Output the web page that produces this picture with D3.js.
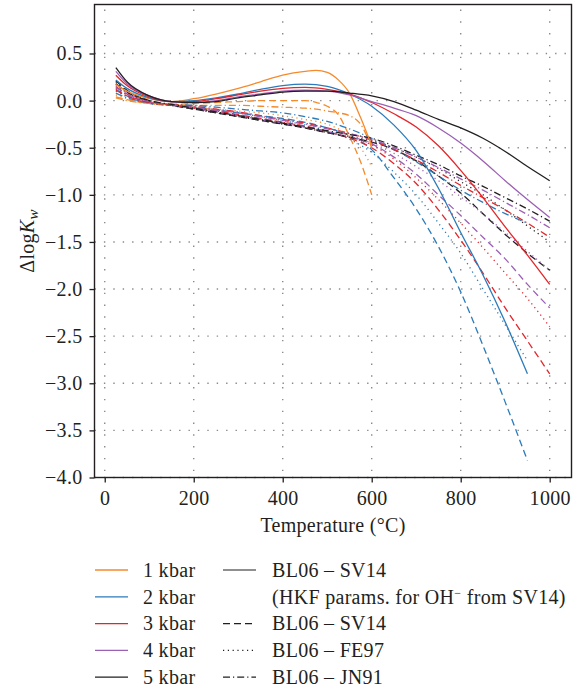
<html>
<head>
<meta charset="UTF-8"/>
<script src="https://d3js.org/d3.v7.min.js"></script>
<title>delta log Kw</title>
<style>
body { margin: 0; background: #fff; }
text { font-family: "Liberation Serif", "DejaVu Serif", serif; fill: #231f20; letter-spacing: 0.3px; }
</style>
</head>
<body>
<svg id='big' width=582 height=691></svg>
<script>
'use strict';

// temperatures (°C)
var temps = [25,50,100,150,200,250,300,350,400,450,500,550,600,650,700,750,800,850,900,950,1000];
var temps1kbar = [25,50,100,150,200,250,300,350,400,450,475,500,525,550,575,600];

// 1 kbar (ends at 600 °C)
var kbar1Solid   = [0.17,0.10,0.02,-0.01,0.02,0.07,0.13,0.20,0.27,0.31,0.32,0.30,0.22,0.08,-0.18,-0.48];
var kbar1Dashed  = [0.04,0.01,-0.03,-0.04,-0.03,-0.02,-0.01,0.0,0.0,0.0,-0.02,-0.06,-0.15,-0.38,-0.65,-1.0];
var kbar1Dotted  = [0.06,0.02,-0.03,-0.05,-0.07,-0.09,-0.11,-0.13,-0.16,-0.20,-0.22,-0.25,-0.30,-0.38,-0.50,-0.70];
var kbar1DashDot = [0.03,0.0,-0.03,-0.04,-0.05,-0.05,-0.05,-0.06,-0.07,-0.08,-0.09,-0.11,-0.13,-0.16,-0.25,-0.50];

// 2 kbar (ends at 950 °C)
var kbar2Solid   = [0.22,0.13,0.03,-0.01,0.0,0.03,0.07,0.12,0.16,0.175,0.15,0.07,-0.06,-0.26,-0.53,-0.93,-1.40,-1.85,-2.35,-2.90,null];
var kbar2Dashed  = [0.12,0.05,-0.03,-0.05,-0.07,-0.10,-0.13,-0.16,-0.19,-0.23,-0.29,-0.37,-0.52,-0.82,-1.15,-1.55,-2.03,-2.60,-3.20,-3.82,null];
var kbar2Dotted  = [0.10,0.04,-0.03,-0.05,-0.07,-0.10,-0.13,-0.17,-0.21,-0.26,-0.32,-0.41,-0.55,-0.76,-1.0,-1.30,-1.62,-2.0,-2.38,-2.76,null];
var kbar2DashDot = [0.08,0.03,-0.02,-0.04,-0.05,-0.07,-0.09,-0.11,-0.13,-0.17,-0.22,-0.30,-0.40,-0.52,-0.65,-0.80,-0.95,-1.08,-1.20,-1.30,null];

// 3 kbar
var kbar3Solid   = [0.27,0.16,0.04,-0.01,-0.01,0.02,0.06,0.10,0.13,0.14,0.12,0.07,-0.02,-0.14,-0.28,-0.48,-0.74,-1.03,-1.34,-1.64,-1.95];
var kbar3Dashed  = [0.15,0.07,-0.02,-0.05,-0.08,-0.11,-0.15,-0.19,-0.23,-0.27,-0.33,-0.40,-0.50,-0.67,-0.88,-1.16,-1.48,-1.83,-2.20,-2.55,-2.90];
var kbar3Dotted  = [0.13,0.06,-0.02,-0.05,-0.08,-0.11,-0.15,-0.19,-0.23,-0.28,-0.33,-0.39,-0.47,-0.62,-0.82,-1.05,-1.30,-1.56,-1.83,-2.10,-2.40];
var kbar3DashDot = [0.11,0.05,-0.02,-0.04,-0.06,-0.09,-0.12,-0.16,-0.20,-0.24,-0.29,-0.35,-0.42,-0.52,-0.63,-0.76,-0.90,-1.03,-1.16,-1.30,-1.45];

// 4 kbar
var kbar4Solid   = [0.31,0.18,0.05,-0.01,-0.02,0.0,0.04,0.07,0.10,0.11,0.10,0.06,-0.01,-0.08,-0.16,-0.29,-0.45,-0.64,-0.85,-1.05,-1.24];
var kbar4Dashed  = [0.18,0.09,-0.01,-0.05,-0.08,-0.12,-0.16,-0.20,-0.24,-0.28,-0.33,-0.39,-0.46,-0.60,-0.78,-1.0,-1.22,-1.45,-1.68,-1.95,-2.20];
var kbar4Dotted  = [0.16,0.08,-0.01,-0.05,-0.08,-0.12,-0.16,-0.20,-0.24,-0.28,-0.33,-0.38,-0.45,-0.56,-0.70,-0.85,-1.02,-1.20,-1.40,-1.60,-1.80];
var kbar4DashDot = [0.14,0.07,-0.01,-0.04,-0.07,-0.10,-0.13,-0.17,-0.21,-0.25,-0.30,-0.35,-0.41,-0.50,-0.60,-0.71,-0.83,-0.95,-1.08,-1.21,-1.35];

// 5 kbar
var kbar5Solid   = [0.35,0.20,0.05,-0.01,-0.02,-0.01,0.03,0.06,0.09,0.10,0.10,0.08,0.05,-0.01,-0.10,-0.20,-0.29,-0.40,-0.54,-0.70,-0.85];
var kbar5Dashed  = [0.21,0.11,0.0,-0.05,-0.09,-0.13,-0.17,-0.21,-0.25,-0.29,-0.34,-0.39,-0.44,-0.52,-0.64,-0.80,-0.98,-1.20,-1.42,-1.62,-1.80];
var kbar5Dotted  = [0.20,0.10,0.0,-0.05,-0.09,-0.13,-0.17,-0.21,-0.25,-0.29,-0.34,-0.38,-0.43,-0.50,-0.60,-0.72,-0.86,-1.0,-1.16,-1.33,-1.50];
var kbar5DashDot = [0.18,0.09,0.0,-0.04,-0.08,-0.12,-0.16,-0.20,-0.24,-0.28,-0.32,-0.36,-0.40,-0.48,-0.58,-0.68,-0.80,-0.91,-1.03,-1.15,-1.28];

var pressures = ['1 kbar','2 kbar','3 kbar','4 kbar','5 kbar'];
var pressureColors = ['#f58a2c','#2b7bba','#e3262b','#9b5fb4','#231f20'];
var methods = ['BL06 \u2013 SV14','BL06 \u2013 SV14','BL06 \u2013 FE97','BL06 \u2013 JN91'];
var methodDash = ['none','7,4','1.2,3.6','7,3,1.2,3'];
var xTicks = [0,200,400,600,800,1000];
var yTicks = [-4,-3.5,-3,-2.5,-2,-1.5,-1,-0.5,0,0.5];

var allValues = [
	[kbar1Solid,kbar1Dashed,kbar1Dotted,kbar1DashDot],
	[kbar2Solid,kbar2Dashed,kbar2Dotted,kbar2DashDot],
	[kbar3Solid,kbar3Dashed,kbar3Dotted,kbar3DashDot],
	[kbar4Solid,kbar4Dashed,kbar4Dotted,kbar4DashDot],
	[kbar5Solid,kbar5Dashed,kbar5Dotted,kbar5DashDot]
];

var FS = 20;

function fmt(d){
	return d3.format('.1f')(d).replace('-', '\u2212');
}

function main(){
	var svg = d3.select('#big');
	var pl = 94.5, pr = 571.5, pt = 4.5, pb = 477.5;

	var sx = d3.scaleLinear().domain([-23, 1049]).range([pl, pr]);
	var sy = d3.scaleLinear().domain([-4, 1.02]).range([pb, pt]);

	// grid
	svg.append('g').selectAll('line')
		.data(yTicks)
		.enter()
		.append('line')
		.attr('x1', pl).attr('x2', pr)
		.attr('y1', function(d){return sy(d);})
		.attr('y2', function(d){return sy(d);})
		.attr('stroke', '#8a8a8a')
		.attr('stroke-width', 1.4)
		.attr('stroke-dasharray', '1.4,8');

	svg.append('g').selectAll('line')
		.data(xTicks)
		.enter()
		.append('line')
		.attr('x1', function(d){return sx(d);})
		.attr('x2', function(d){return sx(d);})
		.attr('y1', pt + 5).attr('y2', pb)
		.attr('stroke', '#8a8a8a')
		.attr('stroke-width', 1.4)
		.attr('stroke-dasharray', '1.4,10.4');

	// curves
	var line = d3.line()
		.defined(function(d){return d[1] != null;})
		.x(function(d){return sx(d[0]);})
		.y(function(d){return sy(d[1]);})
		.curve(d3.curveMonotoneX);

	var curves = svg.append('g');
	[1,2,3,0].forEach(function(m){
		for(var p=0; p<5; p++){
			var t = p == 0 ? temps1kbar : temps;
			var pts = allValues[p][m].map(function(v, i){return [t[i], v];});
			curves.append('path')
				.datum(pts)
				.attr('d', line)
				.attr('fill', 'none')
				.attr('stroke', pressureColors[p])
				.attr('stroke-width', 1.3)
				.attr('stroke-dasharray', methodDash[m]);
		}
	});

	// axes
	var yAxis = d3.axisLeft(sy).tickValues(yTicks).tickSize(5).tickPadding(7).tickFormat(fmt);
	var xAxis = d3.axisBottom(sx).tickValues(xTicks).tickSize(5).tickPadding(8).tickFormat(d3.format('d'));

	var gy = svg.append('g').attr('transform', 'translate(' + pl + ',0)').call(yAxis);
	var gx = svg.append('g').attr('transform', 'translate(0,' + pb + ')').call(xAxis);
	[gx, gy].forEach(function(g){
		g.select('.domain').remove();
		g.selectAll('line').attr('stroke', '#231f20').attr('stroke-width', 1.3);
		g.selectAll('text').attr('font-size', FS).attr('font-family', '"Liberation Serif", serif').attr('fill', '#231f20');
	});

	svg.append('rect')
		.attr('x', pl).attr('y', pt)
		.attr('width', pr - pl).attr('height', pb - pt)
		.attr('fill', 'none')
		.attr('stroke', '#231f20')
		.attr('stroke-width', 1.4);

	// axis titles
	svg.append('text')
		.attr('x', 333)
		.attr('y', 532)
		.attr('text-anchor', 'middle')
		.attr('font-size', FS)
		.text('Temperature (\u00b0C)');

	var yl = svg.append('text')
		.attr('transform', 'translate(34,' + ((pt + pb) / 2) + ') rotate(-90)')
		.attr('text-anchor', 'middle')
		.attr('font-size', FS);
	yl.append('tspan').text('\u0394log');
	yl.append('tspan').attr('font-style', 'italic').text('K');
	yl.append('tspan').attr('font-style', 'italic').attr('font-size', 15).attr('dy', 4).text('w');

	// legend
	var rowY = d3.range(5).map(function(i){return 570 + i * 26.8;});
	var leg = svg.append('g');
	pressures.forEach(function(name, i){
		leg.append('line')
			.attr('x1', 95).attr('x2', 128)
			.attr('y1', rowY[i]).attr('y2', rowY[i])
			.attr('stroke', pressureColors[i]).attr('stroke-width', 1.3);
		leg.append('text')
			.attr('x', 143).attr('y', rowY[i] + 6.8)
			.attr('font-size', FS)
			.text(name);
	});

	var methodRows = [0, 2, 3, 4];
	methods.forEach(function(name, i){
		var y = rowY[methodRows[i]];
		leg.append('line')
			.attr('x1', 223).attr('x2', 256)
			.attr('y1', y).attr('y2', y)
			.attr('stroke', '#231f20').attr('stroke-width', 1.2)
			.attr('stroke-dasharray', methodDash[i]);
		leg.append('text')
			.attr('x', 272).attr('y', y + 6.8)
			.attr('font-size', FS)
			.text(name);
	});

	var hkf = leg.append('text')
		.attr('x', 272).attr('y', rowY[1] + 6.8)
		.attr('font-size', FS);
	hkf.append('tspan').text('(HKF params. for OH');
	hkf.append('tspan').attr('font-size', 12).attr('dy', -7).text('\u2212');
	hkf.append('tspan').attr('dy', 7).text(' from SV14)');

	return svg;
}

var svg = main();

</script>
</body>
</html>
